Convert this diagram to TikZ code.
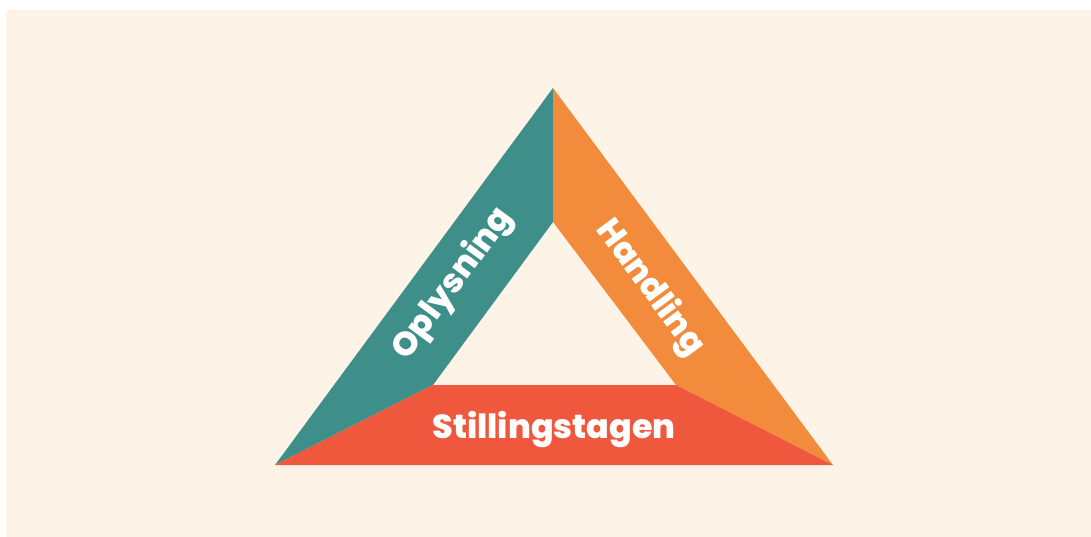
\documentclass[tikz,border=0pt]{standalone}
\usepackage{fontspec}
\setmainfont{Poppins}[BoldFont={* ExtraBold}]
\usepackage{tikz}
\usetikzlibrary{positioning}
\definecolor{cream}{HTML}{FDF3E6}
\definecolor{teal}{HTML}{3E8E8A}
\definecolor{orng}{HTML}{F28C3C}
\definecolor{redd}{HTML}{F0583D}
\tikzset{label/.style={text=white,font=\fontsize{19}{19}\selectfont\bfseries}}

\begin{document}
\begin{tikzpicture}[x=0.02cm,y=-0.02cm]

  \useasboundingbox (0,0) rectangle (1091,537);
  \fill [cream] (6,10) rectangle (1091,537);


  \coordinate (top) at (553,88);
  \coordinate (bl) at (275,465);
  \coordinate (br) at (833,465);
  \coordinate (itop) at (553,222);
  \coordinate (ibl) at (433,385);
  \coordinate (ibr) at (676,385);

  \fill [teal] (top) -- (itop) -- (ibl) -- (bl) -- cycle;
  \fill [orng] (top) -- (br) -- (ibr) -- (itop) -- cycle;
  \fill [redd] (bl) -- (ibl) -- (ibr) -- (br) -- cycle;



  \node [label,rotate=53.6] (oplysning) at (453,284) {Oplysning};
  \node [label,rotate=-53.6] (handling) at (650,288) {Handling};
  \node [label] (stillingstagen) at (554,429) {Stillingstagen};





\end{tikzpicture}
\end{document}
